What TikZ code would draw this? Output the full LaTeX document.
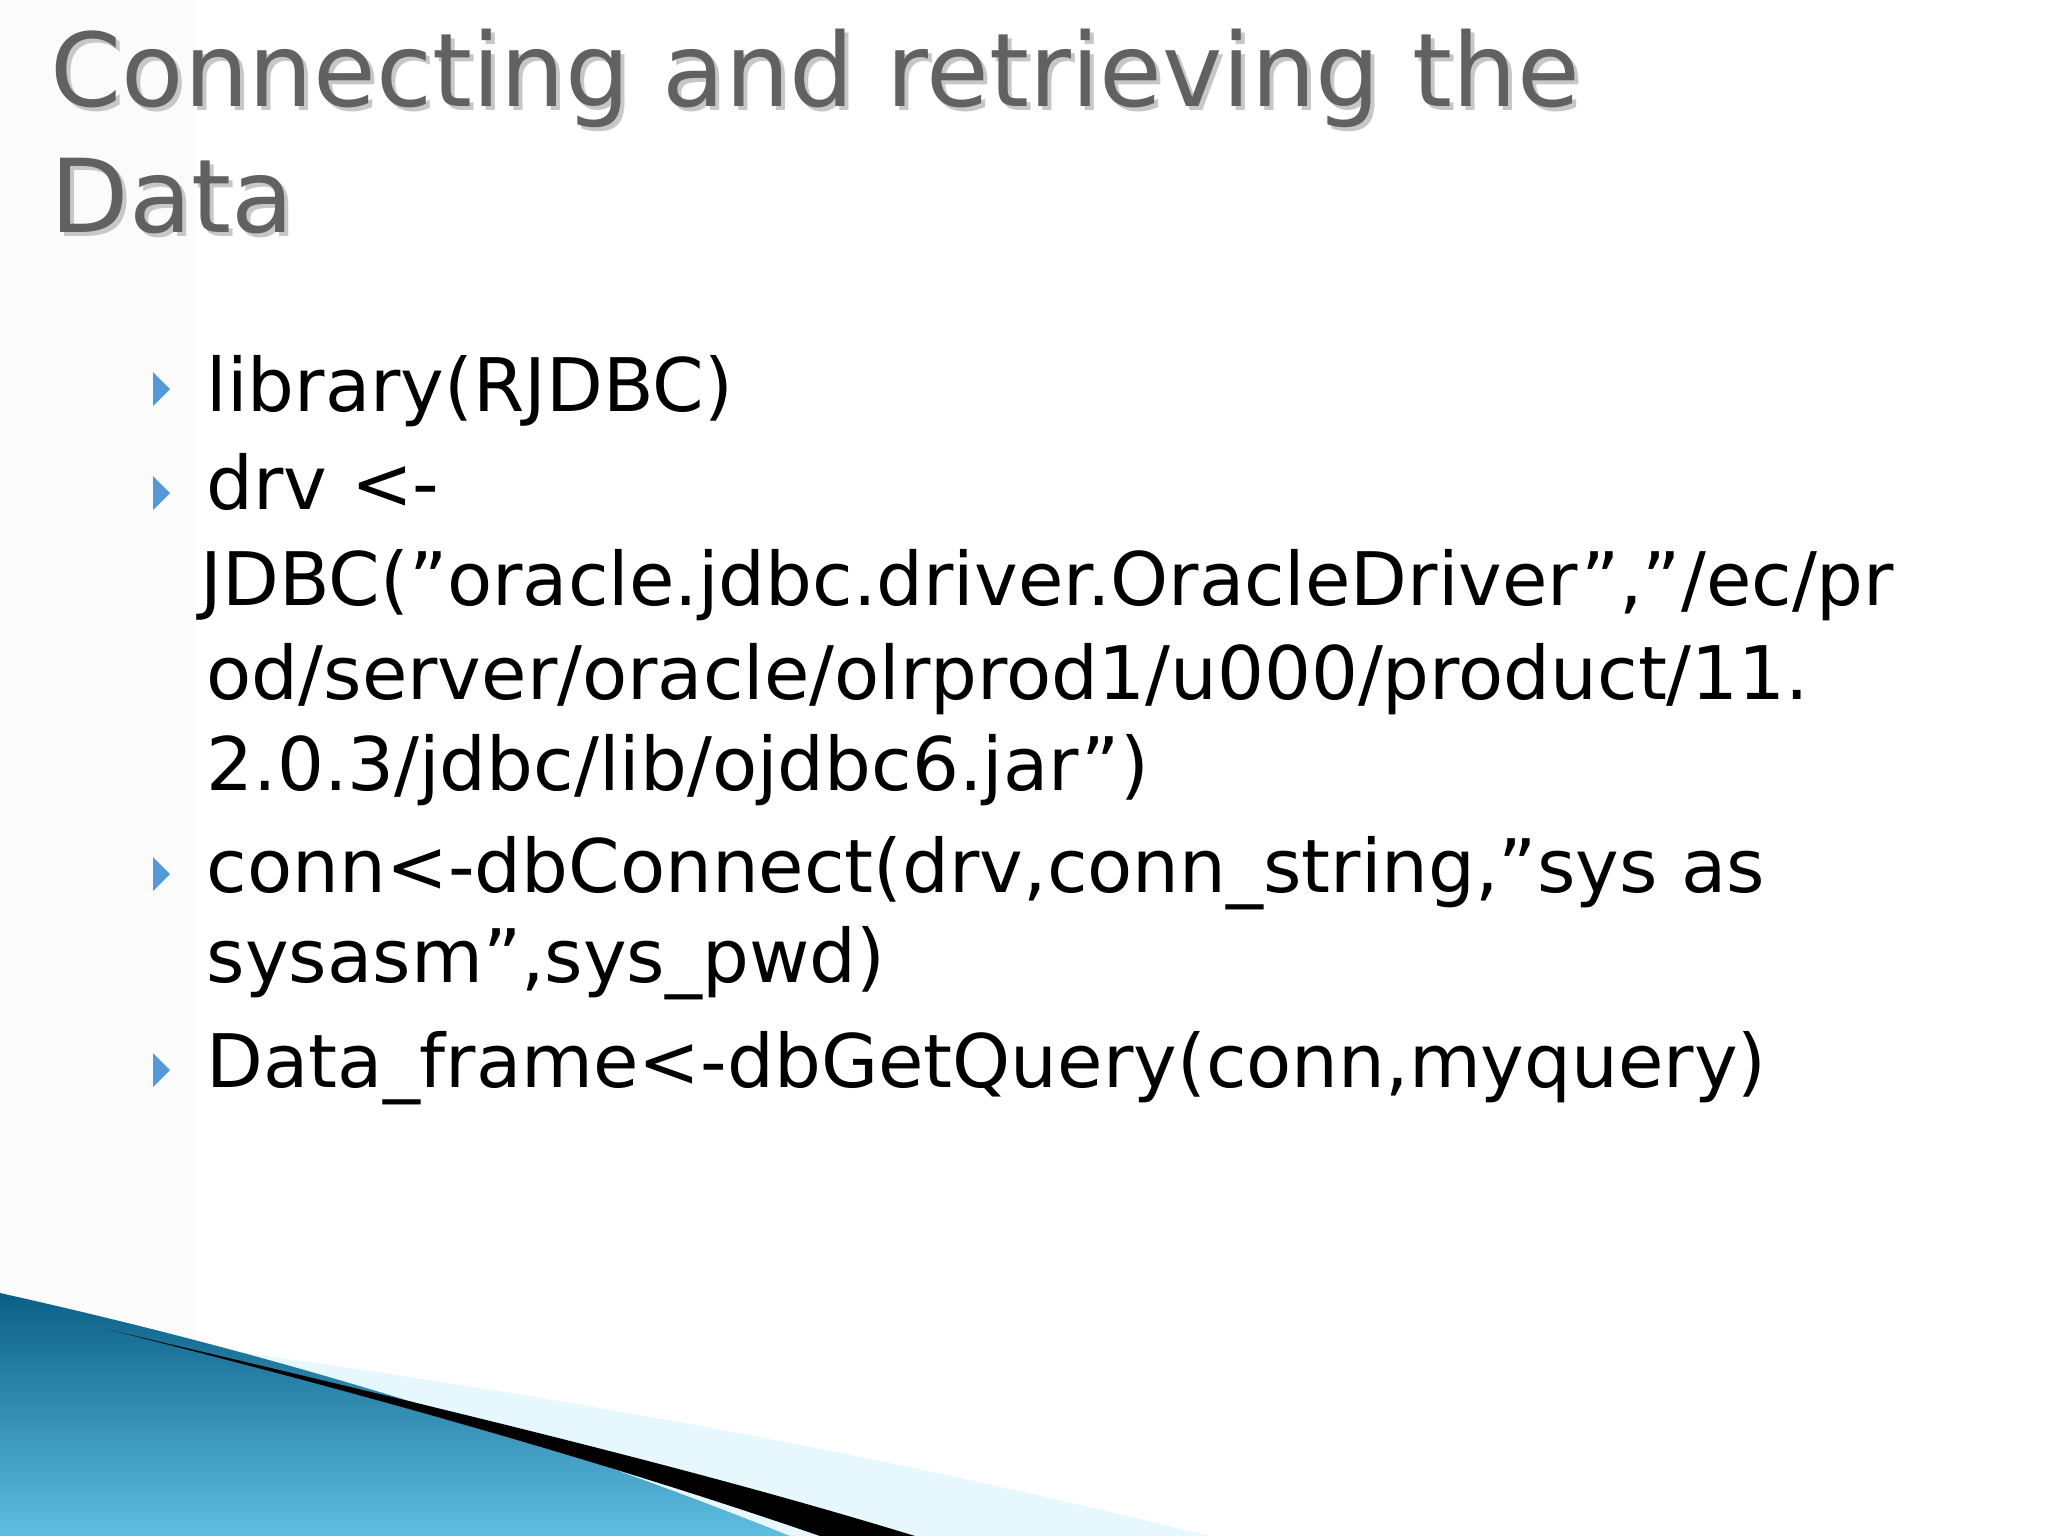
\documentclass[tikz,border=0pt]{standalone}
\usepackage{fontspec}
\setmainfont{DejaVu Sans}[Ligatures=ResetAll]
\definecolor{dteal}{RGB}{10,95,135}
\definecolor{lsky}{RGB}{95,190,225}
\newcommand{\dq}{\symbol{34}}
\begin{document}
\begin{tikzpicture}[x=0.01cm,y=-0.01cm,
  ttl/.style={anchor=base west,inner sep=0,text=black!62,font=\fontsize{29}{34}\selectfont},
  line/.style={anchor=base west,inner sep=0,font=\fontsize{21}{26}\selectfont},
  bul/.style={fill=cyan!60!blue!70,draw=none}]
\useasboundingbox (0,0) rectangle (2048,1536);
\fill[white] (0,0) rectangle (2048,1536);
\fill[black!1.5] (0,0) rectangle (195,1536);
% title with shadow
\node[ttl,text=black!22] (t1s) at (54,110) {Connecting and retrieving the};
\node[ttl,text=black!22] (t2s) at (54,236) {Data};
\node[ttl] (t1) at (50,106) {Connecting and retrieving the};
\node[ttl] (t2) at (50,232) {Data};
% bullets
\foreach \y in {389,493,874,1070}{
  \fill[bul] (153,\y-17) -- (170,\y) -- (153,\y+17) -- cycle;}
\node[line] (l1) at (206,411) {library(RJDBC)};
\node[line] (l2) at (206,509) {drv <-};
\node[line] (l3) at (200,605) {JDBC(\dq oracle.jdbc.driver.OracleDriver\dq,\dq/ec/pr};
\node[line] (l4) at (206,699) {od/server/oracle/olrprod1/u000/product/11.};
\node[line] (l5) at (206,790) {2.0.3/jdbc/lib/ojdbc6.jar\dq)};
\node[line] (l6) at (206,892) {conn<-dbConnect(drv,conn\_string,\dq sys as};
\node[line] (l7) at (206,982) {sysasm\dq,sys\_pwd)};
\node[line] (l8) at (206,1087) {Data\_frame<-dbGetQuery(conn,myquery)};
% bottom decoration
\fill[cyan!10] (150,1340) .. controls (600,1400) and (900,1460) .. (1210,1536) -- (700,1536) -- cycle;
\shade[top color=dteal, bottom color=lsky] (0,1293) .. controls (300,1360) and (550,1440) .. (790,1536) -- (0,1536) -- cycle;
\fill[black] (110,1330) .. controls (450,1410) and (700,1470) .. (915,1536) -- (820,1536) .. controls (600,1460) and (350,1390) .. (110,1330) -- cycle;
\end{tikzpicture}
\end{document}
